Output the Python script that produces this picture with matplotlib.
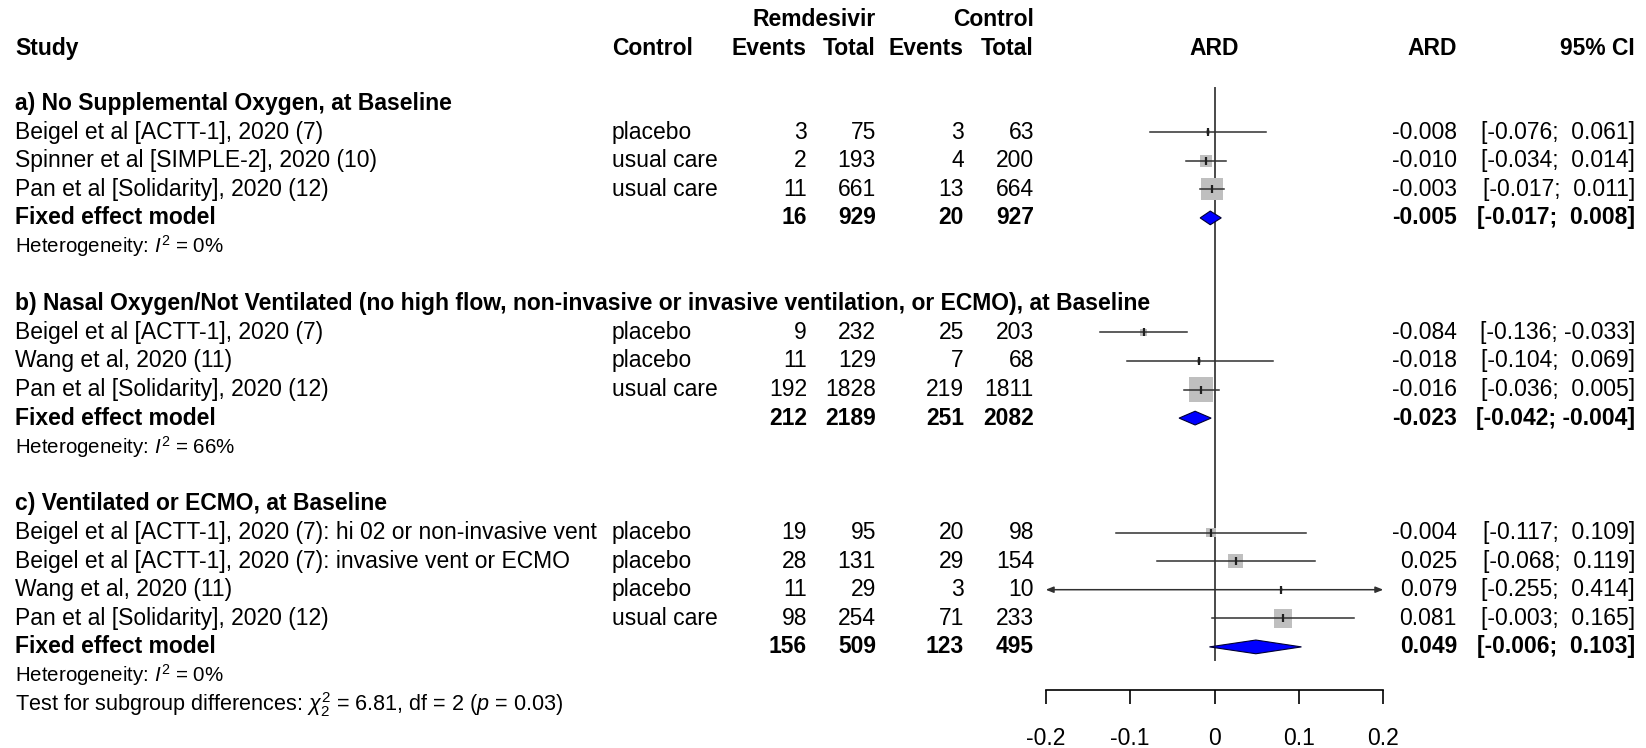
import matplotlib
matplotlib.use("Agg")
import matplotlib.pyplot as plt
from matplotlib.patches import Polygon, Rectangle
import numpy as np

plt.rcParams['font.family'] = ['Liberation Sans', 'DejaVu Sans']
plt.rcParams['mathtext.fontset'] = 'custom'
plt.rcParams['mathtext.rm'] = 'Liberation Sans'
plt.rcParams['mathtext.it'] = 'Liberation Sans:italic'
plt.rcParams['mathtext.bf'] = 'Liberation Sans:bold'

# ---------------- data ----------------
group_titles = [
    "a) No Supplemental Oxygen, at Baseline",
    "b) Nasal Oxygen/Not Ventilated (no high flow, non-invasive or invasive ventilation, or ECMO), at Baseline",
    "c) Ventilated or ECMO, at Baseline",
]

studies_a = ["Beigel et al [ACTT-1], 2020 (7)",
             "Spinner et al [SIMPLE-2], 2020 (10)",
             "Pan et al [Solidarity], 2020 (12)"]
control_a = ["placebo", "usual care", "usual care"]
rem_events_a = [3, 2, 11]
rem_total_a = [75, 193, 661]
ctl_events_a = [3, 4, 13]
ctl_total_a = [63, 200, 664]
ard_a = [-0.008, -0.010, -0.003]
ci_low_a = [-0.076, -0.034, -0.017]
ci_high_a = [0.061, 0.014, 0.011]
weight_a = [2.5, 22.4, 75.1]

studies_b = ["Beigel et al [ACTT-1], 2020 (7)",
             "Wang et al, 2020 (11)",
             "Pan et al [Solidarity], 2020 (12)"]
control_b = ["placebo", "placebo", "usual care"]
rem_events_b = [9, 11, 192]
rem_total_b = [232, 129, 1828]
ctl_events_b = [25, 7, 219]
ctl_total_b = [203, 68, 1811]
ard_b = [-0.084, -0.018, -0.016]
ci_low_b = [-0.136, -0.104, -0.036]
ci_high_b = [-0.033, 0.069, 0.005]
weight_b = [6.5, 2.9, 90.6]

studies_c = ["Beigel et al [ACTT-1], 2020 (7): hi 02 or non-invasive vent",
             "Beigel et al [ACTT-1], 2020 (7): invasive vent or ECMO",
             "Wang et al, 2020 (11)",
             "Pan et al [Solidarity], 2020 (12)"]
control_c = ["placebo", "placebo", "placebo", "usual care"]
rem_events_c = [19, 28, 11, 98]
rem_total_c = [95, 131, 29, 254]
ctl_events_c = [20, 29, 3, 71]
ctl_total_c = [98, 154, 10, 233]
ard_c = [-0.004, 0.025, 0.079, 0.081]
ci_low_c = [-0.117, -0.068, -0.255, -0.003]
ci_high_c = [0.109, 0.119, 0.414, 0.165]
weight_c = [13.8, 31.5, 1.5, 53.2]

pooled_rem_events = [16, 212, 156]
pooled_rem_total = [929, 2189, 509]
pooled_ctl_events = [20, 251, 123]
pooled_ctl_total = [927, 2082, 495]
pooled_ard = [-0.005, -0.023, 0.049]
pooled_low = [-0.017, -0.042, -0.006]
pooled_high = [0.008, -0.004, 0.103]
het_i2 = [0, 66, 0]

axis_ticks = [-0.2, -0.1, 0, 0.1, 0.2]
axis_tick_labels = ["-0.2", "-0.1", "0", "0.1", "0.2"]

subgroup_test = "Test for subgroup differences: $\\chi^2_2$ = 6.81, df = 2 ($\\mathit{p}$ = 0.03)"

groups = [
    (studies_a, control_a, rem_events_a, rem_total_a, ctl_events_a, ctl_total_a, ard_a, ci_low_a, ci_high_a, weight_a),
    (studies_b, control_b, rem_events_b, rem_total_b, ctl_events_b, ctl_total_b, ard_b, ci_low_b, ci_high_b, weight_b),
    (studies_c, control_c, rem_events_c, rem_total_c, ctl_events_c, ctl_total_c, ard_c, ci_low_c, ci_high_c, weight_c),
]

# ---------------- layout ----------------
W, H = 1646, 748
ROW0 = 103.5      # pixel y of row 0
ROWH = 28.6       # pixel height of one row
FS = 16.5
FS_HET = 14.8
FS_TEST = 15.6

fig = plt.figure(figsize=(W / 100, H / 100), dpi=100)

def row_at(px):
    return (px - ROW0) / ROWH

# table axes over full figure (x in pixel layout units)
tab = fig.add_axes([0, 0, 1, 1])
tab.set_xlim(0, W)
tab.set_ylim(row_at(H), row_at(0))
tab.axis("off")

# forest axes
fx0, fx1 = 1045.7, 1383.3
axis_px = 690.0
fax = fig.add_axes([fx0 / W, (H - axis_px) / H, (fx1 - fx0) / W, axis_px / H])
fax.set_xlim(-0.2, 0.2)
fax.set_ylim(row_at(axis_px), row_at(0))
fax.patch.set_alpha(0)
for s in ["top", "left", "right"]:
    fax.spines[s].set_visible(False)
fax.spines["bottom"].set_linewidth(1.2)
fax.set_yticks([])
fax.set_xticks(axis_ticks)
fax.set_xticklabels(axis_tick_labels, fontsize=FS)
fax.tick_params(axis="x", direction="out", length=10.1, width=1.2, pad=16.5)

px_per_x = (fx1 - fx0) / 0.4
px_per_row = ROWH

X_STUDY = 15
X_CTRL = 612
X_RE = 807
X_RT = 876
X_CE = 964
X_CT = 1034
X_ARD = 1457
X_CI = 1635

def t(x, y, s, ha="left", bold=False, fs=FS):
    tab.text(x, y, s, ha=ha, va="center", fontsize=fs,
             fontweight="bold" if bold else "normal")

# headers
t(X_RT, -2.93, "Remdesivir", ha="right", bold=True)
t(X_CT, -2.93, "Control", ha="right", bold=True)
hy = -1.93
t(X_STUDY, hy, "Study", bold=True)
t(X_CTRL, hy, "Control", bold=True)
t(X_RE, hy, "Events", ha="right", bold=True)
t(X_RT, hy, "Total", ha="right", bold=True)
t(X_CE, hy, "Events", ha="right", bold=True)
t(X_CT, hy, "Total", ha="right", bold=True)
fax.text(0, hy, "ARD", ha="center", va="center", fontsize=FS, fontweight="bold", clip_on=False)
t(X_ARD, hy, "ARD", ha="right", bold=True)
t(X_CI, hy, "95% CI", ha="right", bold=True)

def fmt(v):
    return f"{v:.3f}"

def fmt_ci(lo, hi):
    a = fmt(lo) if lo < 0 else " " + fmt(lo)
    b = (" " + fmt(hi)) if hi < 0 else ("  " + fmt(hi))
    return f"[{a};{b}]"

line_col = "#303030"
row = 0
zero_top = row_at(88.3)
zero_bot = row_at(660)
fax.plot([0, 0], [zero_top, zero_bot], color="#4a4a4a", lw=1.4, clip_on=False, zorder=1)

for gi, g in enumerate(groups):
    studies, ctrl, re, rt, ce, ct, ard, lo, hi, wt = g
    t(X_STUDY, row, group_titles[gi], bold=True)
    for k in range(len(studies)):
        r = row + 1 + k
        t(X_STUDY, r, studies[k])
        t(X_CTRL, r, ctrl[k])
        t(X_RE, r, str(re[k]), ha="right")
        t(X_RT, r, str(rt[k]), ha="right")
        t(X_CE, r, str(ce[k]), ha="right")
        t(X_CT, r, str(ct[k]), ha="right")
        t(X_ARD, r, fmt(ard[k]), ha="right")
        t(X_CI, r, fmt_ci(lo[k], hi[k]), ha="right")
        # square sized by weight
        side = 2.539 * np.sqrt(wt[k])
        wx = side / px_per_x
        wy = side / px_per_row
        fax.add_patch(Rectangle((ard[k] - wx / 2, r - wy / 2), wx, wy,
                                facecolor="#bfbfbf", edgecolor="none", zorder=2, clip_on=False))
        l, h = lo[k], hi[k]
        if l < -0.2 or h > 0.2:
            l2, h2 = max(l, -0.2), min(h, 0.2)
            fax.annotate("", xy=(l2, r), xytext=(h2, r),
                         arrowprops=dict(arrowstyle="<|-|>,head_length=0.45,head_width=0.18",
                                         color=line_col, lw=1.1, shrinkA=0, shrinkB=0),
                         annotation_clip=False, zorder=3)
        else:
            fax.plot([l, h], [r, r], color=line_col, lw=1.1, zorder=3, clip_on=False)
        fax.plot([ard[k]], [r], marker="|", ms=5.5, mew=1.6, color="#202020", zorder=4, clip_on=False)
    pr = row + 1 + len(studies)
    t(X_STUDY, pr, "Fixed effect model", bold=True)
    t(X_RE, pr, str(pooled_rem_events[gi]), ha="right", bold=True)
    t(X_RT, pr, str(pooled_rem_total[gi]), ha="right", bold=True)
    t(X_CE, pr, str(pooled_ctl_events[gi]), ha="right", bold=True)
    t(X_CT, pr, str(pooled_ctl_total[gi]), ha="right", bold=True)
    t(X_ARD, pr, fmt(pooled_ard[gi]), ha="right", bold=True)
    t(X_CI, pr, fmt_ci(pooled_low[gi], pooled_high[gi]), ha="right", bold=True)
    dh = 0.24
    fax.add_patch(Polygon([(pooled_low[gi], pr), (pooled_ard[gi], pr - dh),
                           (pooled_high[gi], pr), (pooled_ard[gi], pr + dh)],
                          closed=True, facecolor="#0000ff", edgecolor="#000033",
                          lw=0.8, zorder=5, clip_on=False))
    t(X_STUDY, pr + 1, f"Heterogeneity: $\\mathit{{I}}^2$ = {het_i2[gi]}%", fs=FS_HET)
    row = pr + 3

t(X_STUDY, row - 1, subgroup_test, fs=FS_TEST)

fig.savefig("out.png", dpi=100)
